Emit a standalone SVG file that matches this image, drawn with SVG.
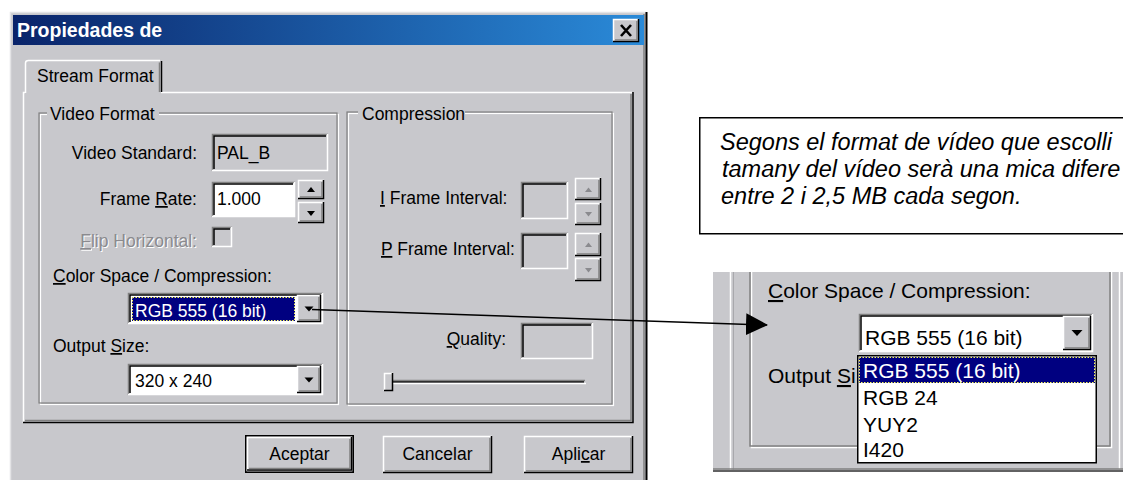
<svg xmlns="http://www.w3.org/2000/svg" width="1123" height="480" viewBox="0 0 1123 480">
<style>
.t{font-family:"Liberation Sans",Arial,sans-serif;font-size:17.5px;fill:#000}
.b{font-size:21px}
.w{fill:#fff}
.dis{fill:#8a8a8e}
.sha{fill:#fff}
.face{fill:#c8c8cc}
.hl{stroke:#fff;fill:none;stroke-width:1.5}
.sh{stroke:#808080;fill:none;stroke-width:1.5}
.dk{stroke:#000;fill:none;stroke-width:1.5}
.lt{stroke:#e4e4e6;fill:none;stroke-width:1.5}
.u{text-decoration:underline}
.call{font-family:"Liberation Sans",Arial,sans-serif;font-size:23.5px;font-style:italic;fill:#000}
.nav{fill:#000080}
.foc{fill:none;stroke:#ffff60;stroke-width:1;stroke-dasharray:1.5 1.5}
</style>
<defs>
<linearGradient id="tg" x1="0" y1="0" x2="1" y2="0">
<stop offset="0" stop-color="#0a246a"/>
<stop offset="1" stop-color="#2a8ad8"/>
</linearGradient>
<marker id="ah" markerUnits="userSpaceOnUse" markerWidth="24" markerHeight="24" refX="21" refY="11" orient="auto">
<path d="M0,0 L22,11 L0,22 z" fill="#000"/>
</marker>
</defs>
<rect width="1123" height="480" fill="#fff"/>

<g id="dialog">
<rect x="10" y="12" width="637" height="470" class="face"/>
<path d="M10.5,480 V12.5 H646" class="lt"/>
<path d="M644,14 V480" class="sh"/>
<path d="M646.5,12 V480" stroke="#000" stroke-width="2" fill="none"/>
<rect x="13" y="15" width="631" height="30" fill="url(#tg)"/>
<text x="17" y="37" class="t w" style="font-weight:bold;font-size:19.5px">Propiedades de</text>
<g id="close">
<rect x="613" y="19" width="26" height="23" class="face"/>
<path d="M613.5,41.5 V19.5 H638.5" class="hl"/>
<path d="M613,41.5 H638.5 V19" class="dk"/>
<path d="M615,40 H637 V21" class="sh"/>
<path d="M621,25 L631,36 M631,25 L621,36" stroke="#000" stroke-width="2.6" fill="none"/>
</g>
</g>

<g id="tabpanel">
<path d="M23.5,423 V92.5 H25 M161,92.5 H632" class="hl"/>
<path d="M23,422.5 H633 V92" class="dk"/>
<path d="M25,420.5 H631 V94" class="sh"/>
<path d="M25.5,93 V63 Q25.5,60.5 28.5,60.5 H160" class="hl"/>
<path d="M161.5,61 V92" class="dk"/>
<path d="M159.5,62.5 V92" class="sh"/>
<text x="37" y="82" class="t">Stream Format</text>
</g>

<g id="videoformat">
<rect x="40.5" y="114.5" width="298" height="290" fill="none" stroke="#fff" stroke-width="1.2"/>
<rect x="39" y="113" width="298" height="290" fill="none" stroke="#808080" stroke-width="1.2"/>
<rect x="47" y="104" width="112" height="20" class="face"/>
<text x="50" y="120" class="t">Video Format</text>

<text x="197" y="159" class="t" text-anchor="end">Video Standard:</text>
<rect x="212" y="134" width="116" height="37" class="face"/>
<path d="M212.5,171 V134.5 H328" class="sh"/>
<path d="M214,169 V136 H326" class="dk"/>
<path d="M212,170.5 H327.5 V134" class="hl"/>
<text x="217" y="159" class="t">PAL_B</text>

<text x="197" y="205" class="t" text-anchor="end">Frame <tspan class="u">R</tspan>ate:</text>
<rect x="212" y="182" width="83" height="35" fill="#fff"/>
<path d="M212.5,217 V182.5 H295" class="sh"/>
<path d="M214,215 V184 H293" class="dk"/>
<path d="M212,216.5 H294.5 V182" class="hl"/>
<text x="217" y="205" class="t">1.000</text>
<rect x="298" y="180" width="26" height="19" class="face"/>
<path d="M298.5,199 V180.5 H324" class="hl"/>
<path d="M298,198.5 H323.5 V180" class="dk"/>
<path d="M300,197 H322 V182" class="sh"/>
<path d="M307,192 H315 L311,187 z" fill="#000"/>
<rect x="298" y="202" width="26" height="21" class="face"/>
<path d="M298.5,223 V202.5 H324" class="hl"/>
<path d="M298,222.5 H323.5 V202" class="dk"/>
<path d="M300,221 H322 V204" class="sh"/>
<path d="M307,211 H315 L311,216 z" fill="#000"/>

<text x="198" y="248" class="t sha" text-anchor="end"><tspan class="u">F</tspan>lip Horizontal:</text>
<text x="197" y="247" class="t dis" text-anchor="end"><tspan class="u">F</tspan>lip Horizontal:</text>
<rect x="212" y="227" width="20" height="20" class="face"/>
<path d="M212.5,247 V227.5 H232" class="sh"/>
<path d="M214,245 V229 H230" class="dk"/>
<path d="M212,246.5 H231.5 V227" class="hl"/>

<text x="53" y="282" class="t"><tspan class="u">C</tspan>olor Space / Compression:</text>
<rect x="128" y="293" width="195" height="31" fill="#fff"/>
<path d="M128.5,324 V293.5 H323" class="sh"/>
<path d="M130,322 V295 H321" class="dk"/>
<path d="M128,323.5 H322.5 V293" class="hl"/>
<rect x="132" y="297" width="163" height="24" class="nav"/>
<rect x="132.5" y="297.5" width="162" height="23" class="foc"/>
<text x="135" y="317" class="t w">RGB 555 (16 bit)</text>
<rect x="297" y="295" width="24" height="27" class="face"/>
<path d="M297.5,322 V295.5 H321" class="hl"/>
<path d="M297,321.5 H320.5 V295" class="dk"/>
<path d="M299,320 H319 V297" class="sh"/>
<path d="M304.5,306.5 H313.5 L309,311.5 z" fill="#000"/>

<text x="53" y="352" class="t">Output <tspan class="u">S</tspan>ize:</text>
<rect x="128" y="364" width="195" height="31" fill="#fff"/>
<path d="M128.5,395 V364.5 H323" class="sh"/>
<path d="M130,393 V366 H321" class="dk"/>
<path d="M128,394.5 H322.5 V364" class="hl"/>
<text x="135" y="387" class="t">320 x 240</text>
<rect x="297" y="366" width="24" height="27" class="face"/>
<path d="M297.5,393 V366.5 H321" class="hl"/>
<path d="M297,392.5 H320.5 V366" class="dk"/>
<path d="M299,391 H319 V368" class="sh"/>
<path d="M304.5,377.5 H313.5 L309,382.5 z" fill="#000"/>
</g>

<g id="compression">
<rect x="348.5" y="113.5" width="265" height="292" fill="none" stroke="#fff" stroke-width="1.2"/>
<rect x="347" y="112" width="265" height="292" fill="none" stroke="#808080" stroke-width="1.2"/>
<rect x="358" y="103" width="107" height="20" class="face"/>
<text x="362" y="120" class="t">Compression</text>

<text x="380" y="204" class="t"><tspan class="u">I</tspan> Frame Interval:</text>
<rect x="521" y="182" width="47" height="37" class="face"/>
<path d="M521.5,219 V182.5 H568" class="sh"/>
<path d="M523,217 V184 H566" class="dk"/>
<path d="M521,218.5 H567.5 V182" class="hl"/>
<path d="M575.5,200 V178.5 H601" class="hl"/>
<path d="M575,199.5 H600.5 V178" class="dk"/>
<path d="M577,198 H599 V180" class="sh"/>
<path d="M585,192 H592 L588.5,187.5 z" fill="#8a8a8e"/>
<path d="M575.5,225 V203.5 H601" class="hl"/>
<path d="M575,224.5 H600.5 V203" class="dk"/>
<path d="M577,223 H599 V205" class="sh"/>
<path d="M585,212 H592 L588.5,216.5 z" fill="#8a8a8e"/>

<text x="381" y="255" class="t"><tspan class="u">P</tspan> Frame Interval:</text>
<rect x="521" y="233" width="47" height="36" class="face"/>
<path d="M521.5,269 V233.5 H568" class="sh"/>
<path d="M523,267 V235 H566" class="dk"/>
<path d="M521,268.5 H567.5 V233" class="hl"/>
<path d="M575.5,256 V233.5 H601" class="hl"/>
<path d="M575,255.5 H600.5 V233" class="dk"/>
<path d="M577,254 H599 V235" class="sh"/>
<path d="M585,247 H592 L588.5,242.5 z" fill="#8a8a8e"/>
<path d="M575.5,281 V258.5 H601" class="hl"/>
<path d="M575,280.5 H600.5 V258" class="dk"/>
<path d="M577,279 H599 V260" class="sh"/>
<path d="M585,268 H592 L588.5,272.5 z" fill="#8a8a8e"/>

<text x="506" y="345" class="t" text-anchor="end"><tspan class="u">Q</tspan>uality:</text>
<rect x="521" y="323" width="72" height="36" class="face"/>
<path d="M521.5,359 V323.5 H593" class="sh"/>
<path d="M523,357 V325 H591" class="dk"/>
<path d="M521,358.5 H592.5 V323" class="hl"/>

<path d="M387,380.5 H585" class="sh"/>
<path d="M388,382 H584" class="dk"/>
<path d="M387,383.5 H586" class="hl"/>
<rect x="384" y="373" width="9" height="18" class="face"/>
<path d="M384.5,391 V373.5 H393" class="hl"/>
<path d="M384,390.5 H392.5 V373" class="dk"/>
</g>

<g id="buttons">
<rect x="245" y="435" width="109" height="38" class="face"/>
<rect x="245.75" y="435.75" width="107.5" height="36.5" fill="none" stroke="#000" stroke-width="1.5"/>
<path d="M247.5,471 V437.5 H352" class="hl"/>
<path d="M247,470 H351.5 V437" class="dk"/>
<path d="M249,468.5 H350 V439" class="sh"/>
<text x="299.5" y="460" class="t" text-anchor="middle">Aceptar</text>

<rect x="383" y="436" width="109" height="37" class="face"/>
<path d="M383.5,473 V436.5 H492" class="hl"/>
<path d="M383,472.5 H491.5 V436" class="dk"/>
<path d="M385,471 H490 V438" class="sh"/>
<text x="437.5" y="460" class="t" text-anchor="middle">Cancelar</text>

<rect x="524" y="436" width="109" height="37" class="face"/>
<path d="M524.5,473 V436.5 H633" class="hl"/>
<path d="M524,472.5 H632.5 V436" class="dk"/>
<path d="M526,471 H631 V438" class="sh"/>
<text x="578.5" y="460" class="t" text-anchor="middle">Apli<tspan class="u">c</tspan>ar</text>
</g>

<g id="callout">
<rect x="699.75" y="117.75" width="460" height="116" fill="#fff" stroke="#000" stroke-width="1.5"/>
<text class="call"><tspan x="720" y="150">Segons el format de vídeo que escolli</tspan><tspan x="722" y="177">tamany del vídeo serà una mica difere</tspan><tspan x="721" y="204">entre 2 i 2,5 MB cada segon.</tspan></text>
</g>

<g id="inset">
<rect x="713" y="272" width="410" height="200" class="face"/>
<path d="M730.5,272 V470" class="hl"/>
<path d="M733.5,272 V470" stroke="#a8a8ac" stroke-width="1" fill="none"/>
<path d="M751.5,272 V447.5 H1111.5 V272" class="hl"/>
<path d="M750,272 V446 H1110 V272" class="sh"/>
<path d="M1119.5,272 V469" class="hl"/>
<path d="M713,469 H1123" class="sh"/>
<path d="M713,471 H1123" stroke="#404040" stroke-width="1.5" fill="none"/>
<text x="768" y="298" class="t b"><tspan class="u">C</tspan>olor Space / Compression:</text>
<rect x="859" y="314" width="234" height="38" fill="#fff"/>
<path d="M859.5,352 V314.5 H1093" class="sh"/>
<path d="M861,350 V316 H1091" class="dk"/>
<path d="M859,351.5 H1092.5 V314" class="hl"/>
<text x="865" y="345" class="t b">RGB 555 (16 bit)</text>
<rect x="1063" y="316" width="28" height="34" class="face"/>
<path d="M1063.5,350 V316.5 H1091" class="hl"/>
<path d="M1063,349.5 H1090.5 V316" class="dk"/>
<path d="M1065,348 H1089 V318" class="sh"/>
<path d="M1071.5,330 H1082.5 L1077,336 z" fill="#000"/>
<text x="768" y="383" class="t b">Output <tspan class="u">S</tspan>i</text>
<rect x="857.75" y="355.75" width="238.5" height="107" fill="#fff" stroke="#000" stroke-width="1.5"/>
<rect x="859" y="357" width="236" height="26" class="nav"/>
<rect x="859.5" y="357.5" width="235" height="25" class="foc"/>
<text x="863" y="378" class="t b w">RGB 555 (16 bit)</text>
<text x="863" y="405" class="t b">RGB 24</text>
<text x="863" y="432" class="t b">YUY2</text>
<text x="863" y="457" class="t b">I420</text>
</g>

<g id="connectors">
<line x1="312" y1="309.5" x2="767" y2="325" stroke="#000" stroke-width="1.5" marker-end="url(#ah)"/>
</g>
</svg>
